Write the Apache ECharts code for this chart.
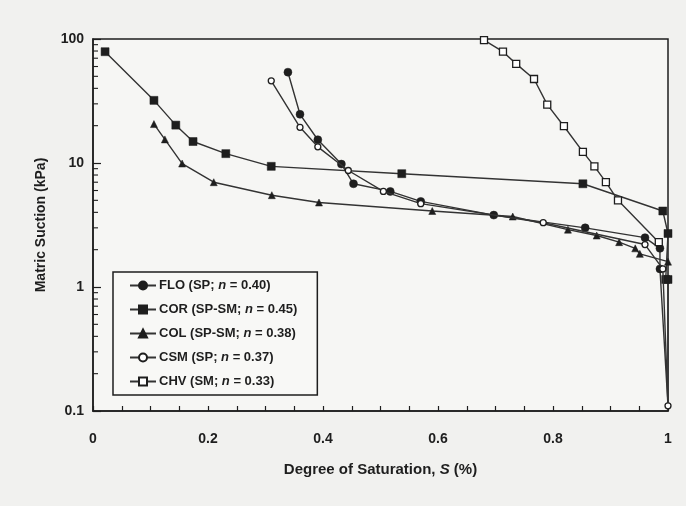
<!DOCTYPE html>
<html>
<head>
<meta charset="utf-8">
<script src="https://cdn.jsdelivr.net/npm/echarts@6/dist/echarts.min.js"></script>
<style>
html,body{margin:0;padding:0;background:#f1f1ef;}
#chart{width:686px;height:506px;}
</style>
</head>
<body>
<div id="chart"></div>
<script>
// ---- Data (degree of saturation S, matric suction kPa) ----
const FLO_S   = [0.339, 0.360, 0.391, 0.432, 0.453, 0.517, 0.570, 0.697, 0.856, 0.960, 0.986, 0.986, 1.000];
const FLO_PSI = [54, 24.7, 15.4, 9.8, 6.8, 5.9, 4.9, 3.8, 3.0, 2.5, 2.05, 1.4, 0.11];

const COR_S   = [0.021, 0.106, 0.144, 0.174, 0.231, 0.310, 0.537, 0.852, 0.991, 1.000, 0.996, 1.000, 1.000];
const COR_PSI = [79, 32, 20.2, 14.9, 11.9, 9.4, 8.2, 6.8, 4.1, 2.7, 1.15, 1.15, 0.11];

const COL_S   = [0.106, 0.125, 0.155, 0.210, 0.311, 0.393, 0.590, 0.730, 0.826, 0.876, 0.915, 0.943, 0.951, 1.000];
const COL_PSI = [20.6, 15.5, 9.9, 7.0, 5.5, 4.8, 4.1, 3.7, 2.9, 2.6, 2.3, 2.05, 1.85, 1.6];

const CSM_S   = [0.310, 0.360, 0.391, 0.444, 0.505, 0.570, 0.783, 0.960, 0.991, 1.000];
const CSM_PSI = [46, 19.4, 13.5, 8.7, 5.9, 4.7, 3.3, 2.2, 1.4, 0.11];

const CHV_S   = [0.680, 0.713, 0.736, 0.767, 0.790, 0.819, 0.852, 0.872, 0.892, 0.913, 0.984];
const CHV_PSI = [98, 79, 63, 47.6, 29.6, 19.8, 12.3, 9.4, 7.0, 5.0, 2.3];

const SERIES_NAMES = ['FLO (SP; n = 0.40)', 'COR (SP-SM; n = 0.45)', 'COL (SP-SM; n = 0.38)', 'CSM (SP; n = 0.37)', 'CHV (SM; n = 0.33)'];
const X_TICKS_MAJOR = [0, 0.2, 0.4, 0.6, 0.8, 1];
const Y_DECADES = [0.1, 1, 10];
const Y_MINOR_MULT = [2, 3, 4, 5, 6, 7, 8, 9];

// ---- Build ----
const INK = '#1e1e1e';
const LINE = '#333333';
const FONT = '"Liberation Sans", Arial, sans-serif';

// the last point of a series whose tail drops to the axis is drawn without a marker
function build(xs, ys, hideTail) {
  return xs.map((x, i) => (hideTail && i === xs.length - 1) ? { value: [x, ys[i]], symbol: 'none' } : [x, ys[i]]);
}

function mk(name, data, symbol, size, open) {
  return {
    name: name,
    type: 'line',
    data: data,
    symbol: symbol,
    symbolSize: size,
    showAllSymbol: true,
    z: open ? 4 : 3,
    lineStyle: { color: LINE, width: 1.4 },
    itemStyle: open ? { color: '#ffffff', borderColor: INK, borderWidth: 1.3 } : { color: INK, borderColor: INK, borderWidth: 0.5 },
    emphasis: { disabled: true },
    animation: false
  };
}

const minorData = [];
Y_DECADES.forEach(d => Y_MINOR_MULT.forEach(m => minorData.push([0, +(d * m).toPrecision(3)])));

const legendRich = {
  b: { fontFamily: FONT, fontWeight: 'bold', fontSize: 13, color: INK },
  i: { fontFamily: FONT, fontWeight: 'bold', fontStyle: 'italic', fontSize: 13, color: INK }
};

const option = {
  backgroundColor: '#f1f1ef',
  animation: false,
  grid: { left: 93, right: 18, top: 39, bottom: 95, show: true, borderColor: INK, borderWidth: 1.5, backgroundColor: '#f6f6f4' },
  legend: {
    orient: 'vertical',
    left: 113, top: 272,
    backgroundColor: '#f8f8f6',
    borderColor: INK, borderWidth: 1.5,
    padding: [7, 20, 7, 16],
    itemWidth: 26, itemHeight: 10, itemGap: 11,
    data: SERIES_NAMES,
    formatter: function (name) {
      const parts = name.split(' n ');
      return '{b|' + parts[0] + ' }{i|n}{b| ' + parts[1] + '}';
    },
    textStyle: { rich: legendRich, padding: [0, 0, 0, -2] }
  },
  xAxis: {
    type: 'value', min: 0, max: 1, interval: 0.2,
    name: '{b|Degree of Saturation, }{i|S}{b| (%)}',
    nameLocation: 'middle', nameGap: 51,
    nameTextStyle: { rich: { b: { fontFamily: FONT, fontWeight: 'bold', fontSize: 15, color: INK }, i: { fontFamily: FONT, fontWeight: 'bold', fontStyle: 'italic', fontSize: 15, color: INK } } },
    axisLine: { onZero: false, lineStyle: { color: INK, width: 1.5 } },
    axisTick: { inside: true, length: 5, lineStyle: { color: INK, width: 1.2 } },
    minorTick: { show: true, splitNumber: 4, length: 5, lineStyle: { color: INK, width: 1.2 } },
    splitLine: { show: false },
    axisLabel: { fontFamily: FONT, fontWeight: 'bold', fontSize: 14, color: INK, margin: 21,
      formatter: v => X_TICKS_MAJOR.indexOf(+v.toFixed(2)) >= 0 ? String(+v.toFixed(1)) : '' }
  },
  yAxis: {
    type: 'log', logBase: 10, min: 0.1, max: 100,
    name: 'Matric Suction (kPa)',
    nameLocation: 'middle', nameGap: 45,
    nameTextStyle: { fontFamily: FONT, fontWeight: 'bold', fontSize: 14, color: INK },
    axisLine: { lineStyle: { color: INK, width: 1.5 } },
    axisTick: { inside: true, length: 8, lineStyle: { color: INK, width: 1.2 } },
    splitLine: { show: false },
    axisLabel: { fontFamily: FONT, fontWeight: 'bold', fontSize: 14, color: INK, margin: 9 }
  },
  series: [
    mk(SERIES_NAMES[0], build(FLO_S, FLO_PSI, true), 'circle', 8, false),
    mk(SERIES_NAMES[1], build(COR_S, COR_PSI, true), 'rect', 8, false),
    mk(SERIES_NAMES[2], build(COL_S, COL_PSI, false), 'triangle', 7, false),
    mk(SERIES_NAMES[3], build(CSM_S, CSM_PSI, false), 'circle', 6, true),
    mk(SERIES_NAMES[4], build(CHV_S, CHV_PSI, false), 'rect', 7, true),
    {
      type: 'custom', name: 'minorTicks', silent: true, z: 5,
      data: minorData,
      renderItem: function (params, api) {
        const p = api.coord([api.value(0), api.value(1)]);
        return { type: 'line', shape: { x1: p[0], y1: p[1], x2: p[0] + 5, y2: p[1] }, style: { stroke: INK, lineWidth: 1.1 } };
      }
    }
  ]
};

const chart = echarts.init(document.getElementById('chart'), null, { renderer: 'canvas' });
chart.setOption(option);
</script>
</body>
</html>
